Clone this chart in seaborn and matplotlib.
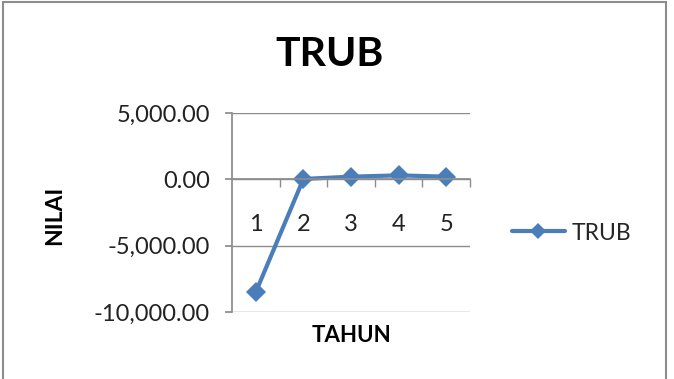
import matplotlib
matplotlib.use("Agg")
import matplotlib.pyplot as plt
from matplotlib.patches import Rectangle
from matplotlib.ticker import FuncFormatter, FixedLocator
import seaborn as sns
import pandas as pd

# Data
tahun = ["1", "2", "3", "4", "5"]
nilai = [-8500, 30, 200, 300, 200]
series_name = "TRUB"
y_ticks = [-10000, -5000, 0, 5000]

sns.set_theme(style="white")
plt.rcParams["font.family"] = ["Lato", "DejaVu Sans"]

W, H = 674, 379
fig = plt.figure(figsize=(W / 100, H / 100), dpi=100)
fig.patch.set_facecolor("white")

# outer chart frame
fig.add_artist(Rectangle((3 / W, -0.05), 663 / W, (H - 2) / H + 0.05,
                         transform=fig.transFigure, fill=False,
                         edgecolor="#8c8c8c", linewidth=1.5))

left, right, top, bottom = 232, 470, 113, 312
ax = fig.add_axes([left / W, (H - bottom) / H, (right - left) / W, (bottom - top) / H])

df = pd.DataFrame({"TAHUN": tahun, "NILAI": nilai})
blue = "#4a7ebb"
sns.lineplot(data=df, x="TAHUN", y="NILAI", ax=ax, color=blue, linewidth=3,
             marker="D", markersize=10, markeredgewidth=0, label=series_name,
             sort=False)

ax.set_xlim(-0.5, 4.5)
ax.set_ylim(-10000, 5000)
ax.set_yticks(y_ticks)
ax.yaxis.set_major_formatter(FuncFormatter(lambda v, p: f"{v:,.2f}"))
ax.grid(axis="y", color="#8c8c8c", linewidth=1)
ax.set_axisbelow(True)

for s in ["top", "right"]:
    ax.spines[s].set_visible(False)
ax.spines["left"].set_color("#8c8c8c")
ax.spines["bottom"].set_color("#8c8c8c")
ax.spines["bottom"].set_position(("data", 0))

ax.tick_params(axis="y", which="major", left=True, length=5, color="#8c8c8c",
               labelsize=17, pad=11, labelcolor="#222222")
ax.xaxis.set_minor_locator(FixedLocator([0.5, 1.5, 2.5, 3.5, 4.5]))
ax.tick_params(axis="x", which="minor", bottom=True, length=6, color="#8c8c8c",
               direction="out")
ax.tick_params(axis="x", which="major", bottom=False, length=0, labelsize=17,
               pad=25, labelcolor="#222222")

ax.set_xlabel("")
ax.set_ylabel("")
fig.text(351 / W, 1 - 335 / H, "TAHUN", ha="center", va="center",
         fontsize=16, fontweight="bold", color="black")
fig.text(55 / W, 1 - 215 / H, "NILAI", ha="center", va="center", rotation=90,
         fontsize=16.5, fontweight="bold", color="black")

fig.text(330 / W, 1 - 54 / H, "TRUB", ha="center", va="center",
         fontsize=29.5, fontweight="bold", color="black")

leg = ax.legend(loc="center left", bbox_to_anchor=((512 - left) / (right - left), (bottom - 233) / (bottom - top)),
                frameon=False, fontsize=16.5, handlelength=2.3, handletextpad=0.3,
                borderaxespad=0, borderpad=0)
for h in leg.get_lines():
    h.set_markersize(8)

fig.savefig("out.png", dpi=100, facecolor="white")
